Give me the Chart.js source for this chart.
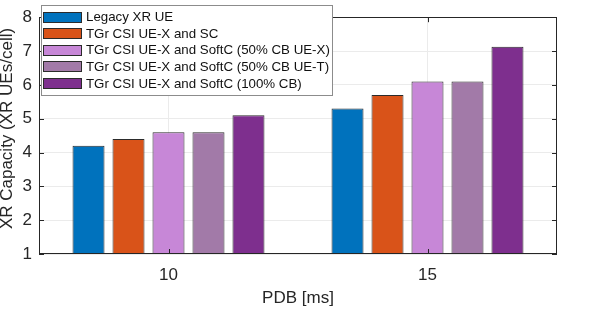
<!DOCTYPE html>
<html>
<head>
<meta charset="utf-8">
<script src="https://cdn.jsdelivr.net/npm/chart.js@4/dist/chart.umd.min.js"></script>
<style>
  html, body { margin: 0; padding: 0; background: #fff; }
</style>
</head>
<body>
<canvas id="chart" width="592" height="330"></canvas>
<script>
// PDB groups on the x axis
const pdbLabels = ['10', '15'];

// series names (legend)
const seriesNames = [
  'Legacy XR UE',
  'TGr CSI UE-X and SC',
  'TGr CSI UE-X and SoftC (50% CB UE-X)',
  'TGr CSI UE-X and SoftC (50% CB UE-T)',
  'TGr CSI UE-X and SoftC (100% CB)'
];

// XR capacity (XR UEs/cell), one value per PDB
const legacyXR = [4.2, 5.3];
const csiSC = [4.4, 5.7];
const softc50UEX = [4.6, 6.1];
const softc50UET = [4.6, 6.1];
const softc100 = [5.1, 7.13];

const yTicks = [1, 2, 3, 4, 5, 6, 7, 8];
const barColors = ['#0072BD', '#D95319', '#C787D7', '#A27AA8', '#7E2F8E'];

const fontFamily = '"Liberation Sans", Arial, Helvetica, sans-serif';
const textColor = '#262626';

const allSeries = [legacyXR, csiSC, softc50UEX, softc50UET, softc100];
const datasets = [];
for (let i = 0; i < allSeries.length; i++) {
  datasets.push({
    label: seriesNames[i],
    data: allSeries[i],
    backgroundColor: barColors[i],
    borderColor: '#2b2b2b',
    borderWidth: 1,
    categoryPercentage: 0.772,
    barPercentage: 0.8
  });
}

// box around the axes, inner tick marks, and the boxed legend
const matlabLook = {
  id: 'matlabLook',
  afterDatasetsDraw(chart) {
    const ctx = chart.ctx;
    const a = chart.chartArea;
    const x = chart.scales.x;
    const y = chart.scales.y;
    ctx.save();
    ctx.strokeStyle = textColor;
    ctx.lineWidth = 1;
    ctx.beginPath();
    yTicks.forEach(v => {
      const py = Math.round(y.getPixelForValue(v)) + 0.5;
      ctx.moveTo(a.left, py); ctx.lineTo(a.left + 5, py);
      ctx.moveTo(a.right, py); ctx.lineTo(a.right - 5, py);
    });
    pdbLabels.forEach((l, i) => {
      const px = Math.round(x.getPixelForValue(i)) + 0.5;
      ctx.moveTo(px, a.bottom); ctx.lineTo(px, a.bottom - 5);
      ctx.moveTo(px, a.top); ctx.lineTo(px, a.top + 5);
    });
    ctx.stroke();
    ctx.strokeRect(Math.round(a.left) + 0.5, Math.round(a.top) + 0.5,
      Math.round(a.right - a.left) - 1, Math.round(a.bottom - a.top) - 1);
    ctx.restore();
  },
  afterDraw(chart) {
    const ctx = chart.ctx;
    const a = chart.chartArea;
    const bx = a.left + 2, by = 5, bw = 291, bh = 90;
    ctx.save();
    ctx.fillStyle = '#fff';
    ctx.fillRect(bx, by, bw, bh);
    ctx.strokeStyle = '#8c8c8c';
    ctx.lineWidth = 1;
    ctx.strokeRect(bx + 0.5, by + 0.5, bw, bh);
    ctx.font = '13.3px ' + fontFamily;
    ctx.textBaseline = 'middle';
    ctx.textAlign = 'left';
    chart.data.datasets.forEach((ds, i) => {
      const cy = 17 + i * 16.6;
      ctx.fillStyle = ds.backgroundColor;
      ctx.fillRect(bx + 2, Math.round(cy - 5.5), 39, 11);
      ctx.strokeStyle = '#2b2b2b';
      ctx.strokeRect(bx + 2.5, Math.round(cy - 5.5) + 0.5, 38, 10);
      ctx.fillStyle = '#111';
      ctx.fillText(ds.label, bx + 45, cy + 0.5);
    });
    ctx.restore();
  }
};

new Chart(document.getElementById('chart'), {
  type: 'bar',
  data: { labels: pdbLabels, datasets: datasets },
  options: {
    responsive: false,
    devicePixelRatio: 1,
    animation: false,
    layout: { padding: { top: 6, right: 35, left: 0, bottom: 0 } },
    plugins: {
      legend: { display: false },
      tooltip: { enabled: false }
    },
    scales: {
      x: {
        grid: { color: '#ebebeb', offset: false, drawTicks: false },
        border: { display: false },
        ticks: { color: textColor, font: { family: fontFamily, size: 17 }, padding: 11 },
        title: {
          display: true, text: 'PDB [ms]', color: textColor,
          font: { family: fontFamily, size: 17 }, padding: { top: 0, bottom: 21 }
        },
        afterFit(scale) { scale.height = 76; }
      },
      y: {
        min: 1, max: 8,
        grid: { color: '#ebebeb', drawTicks: false },
        border: { display: false },
        ticks: {
          stepSize: 1, color: textColor, padding: 7,
          font: { family: fontFamily, size: 17 }
        },
        title: {
          display: true, text: '   XR Capacity (XR UEs/cell)', color: textColor,
          font: { family: fontFamily, size: 17 }, padding: { top: -3, bottom: 0 }
        },
        afterFit(scale) { scale.width = 39; }
      }
    }
  },
  plugins: [matlabLook]
});
</script>
</body>
</html>
